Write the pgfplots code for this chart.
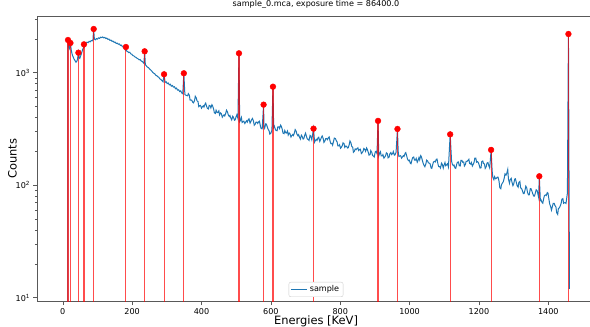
\documentclass[border=0pt]{standalone}
\usepackage{fontspec}
\setmainfont{DejaVu Sans}
\usepackage{pgfplots}
\pgfplotsset{compat=1.18}
\definecolor{mplblue}{HTML}{1F77B4}
\pgfplotstableread{
E C
14 1
15 1953
17 1750
19 1650
22 1837
24 1620
26 1500
28 1420
30 1380
32 1330
34 1300
36 1270
38 1240
40 1260
42 1300
44 1420
45 1506
47 1360
49 1340
51 1400
53 1450
55 1520
57 1600
59 1650
61 1786
63 1700
65 1760
67 1820
70 1870
73 1850
76 1900
79 1880
82 1930
85 1920
87 1960
89 2446
91 1990
94 1960
97 2010
100 1990
103 2040
106 2020
109 2070
112 2050
115 2080
118 2040
121 2060
124 2010
127 2030
130 1980
133 1990
136 1940
139 1950
142 1900
145 1910
148 1860
151 1870
154 1820
157 1830
160 1790
163 1800
166 1750
169 1760
172 1700
175 1690
178 1650
180 1600
182 1692
184 1560
187 1540
190 1510
193 1520
196 1470
199 1460
202 1420
205 1410
208 1380
211 1370
214 1343
217 1330
220 1300
223 1310
226 1270
229 1260
232 1230
234 1210
236 1549
238 1180
241 1150
244 1120
247 1110
250 1080
253 1060
256 1040
259 1010
262 990
265 980
268 950
271 940
274 920
277 910
280 880
283 870
286 850
289 830
292 968
295 820
298 830
301 800
304 810
307 780
310 790
313 760
316 770
319 745
322 750
325 720
328 730
331 700
334 705
337 680
340 690
343 660
346 650
349 988
352 640
355 630
360 623
362 651
365 630
367 571
370 572
372 569
375 544
377 539
380 568
382 617
385 596
387 563
390 552
392 499
395 510
397 512
400 484
402 496
405 508
407 495
410 525
412 537
415 498
417 482
420 476
422 512
425 508
427 487
430 519
432 506
435 474
437 440
440 434
442 464
445 442
447 441
450 458
452 421
455 439
457 433
460 402
462 412
465 422
467 413
470 437
472 464
475 447
477 423
480 408
482 416
485 391
487 380
490 410
492 402
495 378
497 381
500 409
502 424
505 392
508 1487
510 367
512 375
515 400
517 361
520 368
522 371
525 353
527 363
530 374
532 364
535 384
537 389
540 357
542 367
545 385
547 392
550 369
552 341
555 350
557 363
560 363
562 354
565 367
567 371
570 333
572 319
575 317
579 520
580 332
582 321
585 351
587 349
590 327
592 315
595 303
597 284
600 290
603 309
606 751
608 326
610 335
613 313
615 306
618 305
620 330
623 330
625 319
628 342
630 334
633 312
635 290
638 287
640 306
643 292
645 291
648 303
650 279
653 291
655 287
658 268
660 275
663 282
665 276
668 293
670 312
673 301
675 285
678 275
680 281
683 265
685 257
688 278
690 272
693 257
695 260
698 280
700 290
703 269
705 257
708 255
710 250
713 277
715 273
718 254
723 318
726 242
728 249
731 256
733 250
736 264
738 267
741 245
743 253
746 267
748 274
751 259
753 240
756 248
758 259
761 260
763 254
766 265
768 269
771 244
773 234
776 235
778 227
781 248
783 262
786 260
788 251
791 242
793 224
796 224
798 229
801 213
803 217
806 225
808 238
811 234
813 217
816 223
818 222
821 214
823 215
826 230
828 247
831 237
833 222
836 217
838 196
841 201
843 210
846 207
848 211
851 215
853 203
856 208
858 209
861 191
863 194
866 201
868 212
871 208
873 200
876 214
878 208
881 195
883 185
886 187
888 203
891 196
893 184
896 181
898 178
901 198
903 200
906 191
909 373
911 182
913 190
916 198
918 182
921 182
923 187
926 174
928 177
931 184
933 194
936 190
938 175
941 178
943 190
946 195
948 187
951 191
953 199
956 185
958 186
961 196
965 316
967 200
969 180
972 182
974 183
977 174
979 178
982 183
984 180
987 192
989 195
992 180
994 170
997 165
999 167
1002 157
1004 155
1007 169
1009 176
1012 178
1014 167
1017 167
1019 173
1022 160
1024 165
1027 176
1029 168
1032 183
1034 179
1037 165
1039 157
1042 149
1044 146
1047 155
1049 167
1052 164
1054 158
1057 157
1059 155
1062 142
1064 141
1067 154
1069 161
1072 163
1074 161
1077 170
1079 171
1082 153
1084 146
1087 146
1089 142
1092 157
1094 154
1097 142
1099 150
1102 159
1104 149
1107 152
1109 155
1112 145
1117 283
1121 164
1123 154
1126 149
1128 151
1131 142
1133 141
1136 154
1138 160
1141 161
1143 149
1146 148
1148 166
1151 166
1153 160
1156 161
1158 148
1161 153
1163 163
1166 163
1168 166
1171 170
1173 156
1176 154
1178 159
1181 148
1183 152
1186 160
1188 174
1191 174
1193 160
1196 162
1198 159
1201 150
1203 142
1206 143
1208 162
1211 164
1213 156
1216 154
1218 141
1221 146
1223 157
1226 159
1228 150
1231 142
1235 206
1238 134
1240 117
1243 112
1245 119
1248 114
1250 115
1253 118
1255 118
1258 108
1260 95
1263 93
1265 101
1268 105
1270 107
1273 116
1275 126
1278 123
1280 127
1283 138
1285 113
1288 104
1290 112
1293 115
1295 107
1298 99
1300 102
1303 113
1305 114
1308 105
1310 99
1313 96
1315 106
1318 108
1320 95
1323 93
1325 90
1328 84
1330 84
1333 91
1335 98
1338 94
1340 86
1343 82
1345 82
1348 93
1350 93
1353 88
1355 84
1358 80
1360 80
1363 86
1365 91
1368 89
1372 78
1374 120
1377 73
1379 74
1382 70
1384 69
1387 77
1389 81
1392 82
1394 81
1397 86
1399 85
1402 74
1404 68
1407 64
1409 60
1412 65
1414 69
1417 69
1419 66
1422 64
1424 57
1427 55
1429 62
1432 63
1434 65
1437 69
1439 75
1442 76
1444 69
1447 70
1449 70
1451 69
1455 85
1458 2208
1461 12
}\spectrum
\pgfplotstableread{
E C
15 1953
22 1837
45 1506
61 1786
89 2446
182 1692
236 1549
292 968
349 988
508 1487
579 520
606 751
723 318
909 373
965 316
1117 283
1235 206
1374 120
1458 2208
}\peaks
\begin{document}
\begin{tikzpicture}
\useasboundingbox (-37bp,-25.3bp) rectangle (553bp,301.7bp);
\begin{axis}[
  at={(0,0)}, anchor=south west,
  scale only axis, width=558bp, height=285.7bp,
  ymode=log,
  xmin=-74.4, xmax=1534.6, ymin=9.21, ymax=3192,
  axis line style={black!65, line width=0.6bp},
  tick style={black!65, line width=0.6bp},
  tick align=outside, tick pos=left,
  major tick length=3.5bp, minor tick length=2bp,
  xtick={0,200,400,600,800,1000,1200,1400},
  xticklabels={0,200,400,600,800,1000,1200,1400},
  ytick={10,100,1000},
  yticklabels={10\textsuperscript{1},10\textsuperscript{2},10\textsuperscript{3}},
  minor ytick={20,30,40,50,60,70,80,90,200,300,400,500,600,700,800,900,2000,3000},
  ticklabel style={font=\fontsize{8.1}{9}\selectfont},
  title={sample\_0.mca, exposure time = 86400.0},
  title style={font=\fontsize{8.1}{9}\selectfont, at={(0.5,1)}, anchor=base, yshift=3.7bp, inner sep=0pt},
  xlabel={Energies [KeV]},
  xlabel style={font=\fontsize{11.5}{13}\selectfont, at={(0.5,0)}, anchor=base, yshift=-22.8bp, inner sep=0pt},
  ylabel={Counts},
  ylabel style={font=\fontsize{11.5}{13}\selectfont, at={(axis description cs:-0.0367,0.5)}, anchor=base, inner sep=0pt},
  legend style={at={(0.5,0.0165)}, anchor=south, draw=black!20, rounded corners=2bp, fill=white,
    font=\fontsize{8.1}{9}\selectfont, inner xsep=2bp, inner ysep=1.5bp},
  legend image code/.code={\draw[#1] (0bp,0bp) -- (16bp,0bp);},
  legend cell align=left,
]
\addplot[mplblue, line width=1bp, mark=none] table[x=E, y=C] {\spectrum};
\addlegendentry{sample}
\addplot[ycomb, red, opacity=0.7, line width=1.1bp, mark=none, forget plot] table[x=E, y=C] {\peaks};
\addplot[only marks, mark=*, mark size=2.9bp, red, forget plot] table[x=E, y=C] {\peaks};
\end{axis}
\end{tikzpicture}
\end{document}
